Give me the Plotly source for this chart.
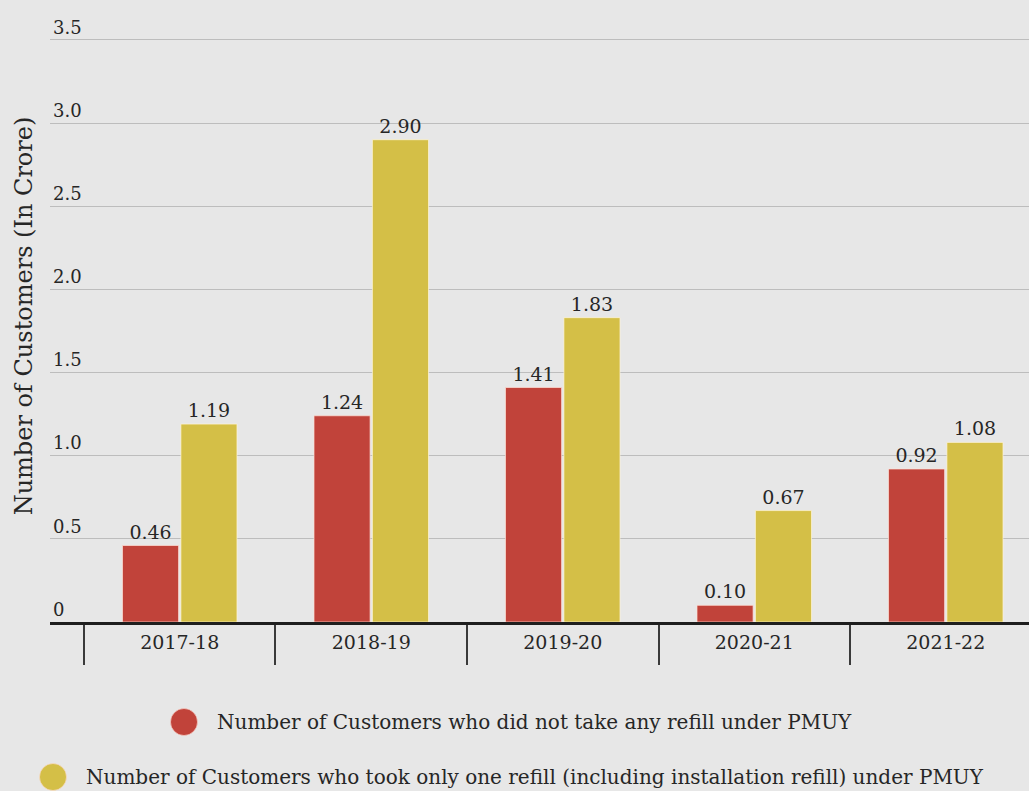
import plotly.graph_objects as go

# Financial years and customer counts (in crore)
years = ["2017-18", "2018-19", "2019-20", "2020-21", "2021-22"]
no_refill = [0.46, 1.24, 1.41, 0.10, 0.92]
one_refill = [1.19, 2.90, 1.83, 0.67, 1.08]

name_no_refill = "Number of Customers who did not take any refill under PMUY"
name_one_refill = "Number of Customers who took only one refill (including installation refill) under PMUY"

y_ticks = [0, 0.5, 1.0, 1.5, 2.0, 2.5, 3.0, 3.5]
y_tick_text = ["0", "0.5", "1.0", "1.5", "2.0", "2.5", "3.0", "3.5"]

RED = "#C1433A"
YELLOW = "#D4BF47"
BG = "#E7E7E7"
INK = "#262626"
SERIF = "DejaVu Serif"

fig = go.Figure()
fig.add_trace(go.Bar(
    x=years, y=no_refill, name=name_no_refill,
    marker=dict(color=RED, line=dict(color="rgba(255,225,215,0.7)", width=1)),
    text=[f"{v:.2f}" for v in no_refill], textposition="outside",
    textfont=dict(family=SERIF, size=19, color=INK),
    cliponaxis=False, showlegend=False,
))
fig.add_trace(go.Bar(
    x=years, y=one_refill, name=name_one_refill,
    marker=dict(color=YELLOW, line=dict(color="rgba(255,245,215,0.7)", width=1)),
    text=[f"{v:.2f}" for v in one_refill], textposition="outside",
    textfont=dict(family=SERIF, size=19, color=INK),
    cliponaxis=False, showlegend=False,
))

# Legend drawn as circular swatches with text beside them
legend_rows = [
    (184, 722, RED, name_no_refill),
    (53, 777, YELLOW, name_one_refill),
]
PLOT_LEFT, PLOT_W, PLOT_BOTTOM, PLOT_H = 50, 979, 622, 612
for cx, cy, col, label in legend_rows:
    px = (cx - PLOT_LEFT) / PLOT_W
    py = (PLOT_BOTTOM - cy) / PLOT_H
    fig.add_shape(type="circle", xref="paper", yref="paper",
                  xsizemode="pixel", ysizemode="pixel",
                  xanchor=px, yanchor=py, x0=-13.5, x1=13.5, y0=-13.5, y1=13.5,
                  fillcolor=col, line=dict(color="rgba(255,220,210,0.6)", width=1))
    fig.add_annotation(xref="paper", yref="paper",
                       x=(cx + 31 - PLOT_LEFT) / PLOT_W, y=py,
                       xanchor="left", yanchor="middle", showarrow=False,
                       text=label, font=dict(family=SERIF, size=20, color=INK))

fig.update_layout(
    width=1029, height=791,
    margin=dict(l=50, r=0, t=10, b=169, autoexpand=False),
    paper_bgcolor=BG, plot_bgcolor=BG,
    barmode="group", bargap=0.39, bargroupgap=0.04,
    font=dict(family=SERIF, color=INK),
    xaxis=dict(
        type="category", range=[-0.6775, 4.4347],
        showline=True, linecolor="#1E1E1E", linewidth=3,
        ticks="outside", tickson="boundaries", ticklen=40, tickwidth=1.5,
        tickcolor="#3A3A3A", ticklabelstandoff=1,
        tickfont=dict(family=SERIF, size=19, color=INK),
        showgrid=False, zeroline=False,
    ),
    yaxis=dict(
        range=[0, 3.680],
        tickvals=y_ticks, ticktext=y_tick_text,
        ticklabelposition="inside top",
        tickfont=dict(family=SERIF, size=18, color=INK),
        showgrid=True, gridcolor="#BDBDBD", gridwidth=1,
        zeroline=False, showline=False, ticks="",
        title=dict(text="Number of Customers (In Crore)",
                   font=dict(family=SERIF, size=24, color=INK), standoff=13),
    ),
)

fig.write_html("out.html")
